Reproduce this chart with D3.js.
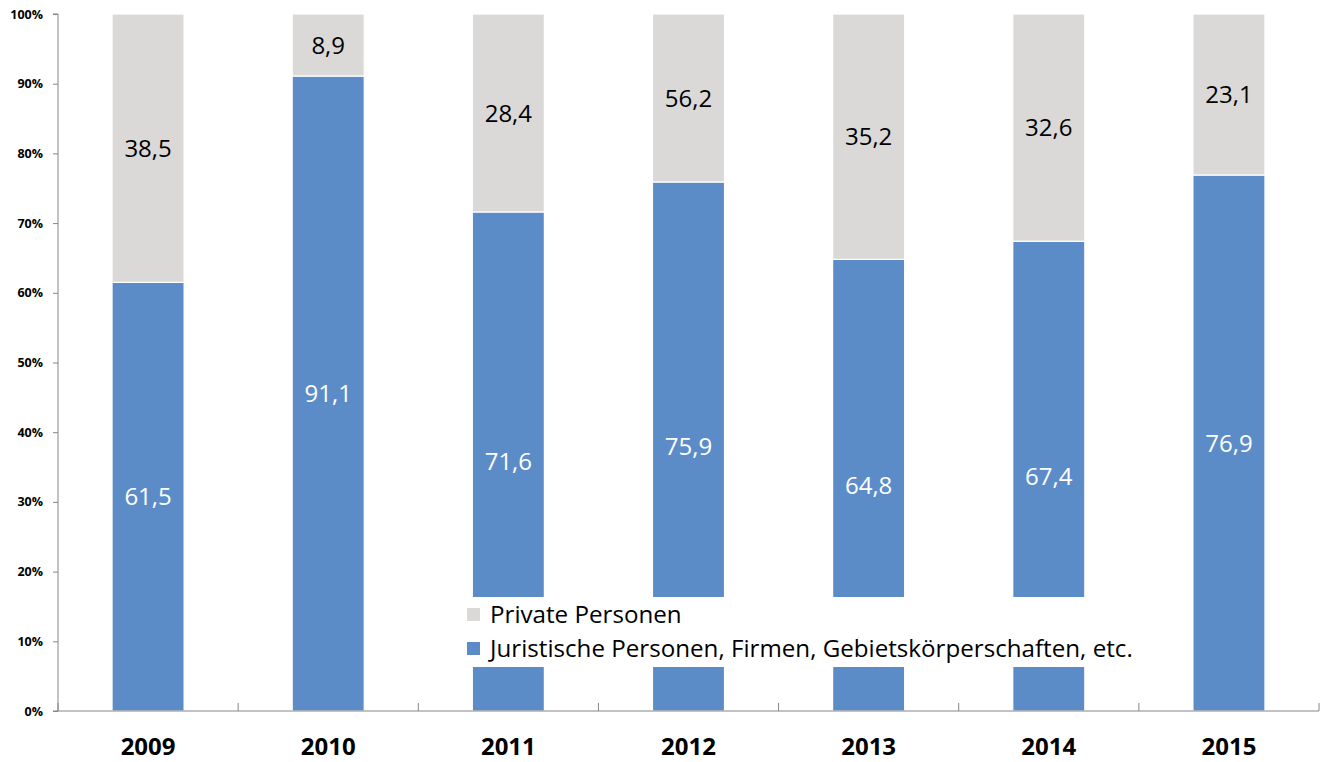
<!DOCTYPE html>
<html>
<head>
<meta charset="utf-8">
<script src="https://cdn.jsdelivr.net/npm/d3@7"></script>
<style>
  html, body { margin: 0; padding: 0; background: #fff; }
  svg { display: block; }
</style>
</head>
<body>
<svg id="chart" width="1322" height="762"></svg>
<script>
// ---- data ----
const years = ["2009", "2010", "2011", "2012", "2013", "2014", "2015"];
const juristValues = [61.5, 91.1, 71.6, 75.9, 64.8, 67.4, 76.9];
const privateValues = [38.5, 8.9, 28.4, 24.1, 35.2, 32.6, 23.1];
const juristLabels = ["61,5", "91,1", "71,6", "75,9", "64,8", "67,4", "76,9"];
const privateLabels = ["38,5", "8,9", "28,4", "56,2", "35,2", "32,6", "23,1"];
const yTicks = [0, 10, 20, 30, 40, 50, 60, 70, 80, 90, 100];
const seriesNames = ["Private Personen", "Juristische Personen, Firmen, Gebietskörperschaften, etc."];

(function () {
// ---- layout ----
const svg = d3.select("#chart");
const mLeft = 58, mRight = 1319, mTop = 14, mBottom = 711;
const blue = "#5B8CC8", gray = "#DAD9D7", axisColor = "#868686";

const x = d3.scaleBand().domain(years).range([mLeft, mRight]).paddingInner(0.6).paddingOuter(0.3);
const y = d3.scaleLinear().domain([0, 100]).range([mBottom, mTop]);

const rows = years.map((yr, i) => ({ year: yr, jur: juristValues[i], priv: privateValues[i] }));
const stack = d3.stack().keys(["jur", "priv"])(rows);
const colors = { jur: blue, priv: gray };

// bars
stack.forEach(layer => {
  svg.append("g").selectAll("rect").data(layer).join("rect")
    .attr("x", d => x(d.data.year))
    .attr("width", x.bandwidth())
    .attr("y", d => y(d[1]))
    .attr("height", d => y(d[0]) - y(d[1]))
    .attr("fill", colors[layer.key])
    .attr("stroke", "#fff")
    .attr("stroke-width", 1.2);
});

// value labels
const labelFont = "'Open Sans', sans-serif";
const juristLayer = stack[0], privLayer = stack[1];
svg.append("g").selectAll("text").data(juristLayer).join("text")
  .attr("x", d => x(d.data.year) + x.bandwidth() / 2)
  .attr("y", d => y((d[0] + d[1]) / 2))
  .attr("dy", "0.36em")
  .attr("text-anchor", "middle")
  .attr("font-family", labelFont).attr("font-size", 24)
  .attr("fill", "#fff")
  .text((d, i) => juristLabels[i]);
svg.append("g").selectAll("text").data(privLayer).join("text")
  .attr("x", d => x(d.data.year) + x.bandwidth() / 2)
  .attr("y", d => y((d[0] + d[1]) / 2))
  .attr("dy", "0.36em")
  .attr("text-anchor", "middle")
  .attr("font-family", labelFont).attr("font-size", 24)
  .attr("fill", "#000")
  .text((d, i) => privateLabels[i]);

// y axis
const yAxis = d3.axisLeft(y).tickValues(yTicks).tickFormat(d => d + "%").tickSize(5).tickPadding(10);
const gy = svg.append("g").attr("transform", `translate(${mLeft},0)`).call(yAxis);
gy.select(".domain").attr("stroke", axisColor).attr("d", `M-5,${mTop}H0V${mBottom}H-5`);
gy.selectAll(".tick line").attr("stroke", axisColor);
gy.selectAll(".tick text")
  .attr("font-family", "'Open Sans', sans-serif").attr("font-weight", "bold")
  .attr("font-size", 12.5).attr("fill", "#000");

// x axis
const gx = svg.append("g").attr("transform", `translate(0,${mBottom})`);
gx.append("line").attr("x1", mLeft).attr("x2", mRight).attr("y1", 0).attr("y2", 0).attr("stroke", axisColor);
const boundaries = years.map(yr => x(yr) - x.step() * x.paddingInner() / 2).concat([mRight]);
gx.selectAll("line.tk").data(boundaries).join("line").attr("class", "tk")
  .attr("x1", d => d).attr("x2", d => d).attr("y1", 0).attr("y2", -8).attr("stroke", axisColor);
gx.selectAll("text").data(years).join("text")
  .attr("x", d => x(d) + x.bandwidth() / 2)
  .attr("y", 44)
  .attr("text-anchor", "middle")
  .attr("font-family", "'Open Sans', sans-serif").attr("font-weight", "bold")
  .attr("font-size", 24).attr("fill", "#000")
  .text(d => d);

// legend
const lg = svg.append("g");
lg.append("rect").attr("x", 460).attr("y", 597).attr("width", 685).attr("height", 70).attr("fill", "#fff");
const legColors = [gray, blue];
const legY = [623, 657];
seriesNames.forEach((name, i) => {
  lg.append("rect").attr("x", 467).attr("y", legY[i] - 15).attr("width", 13).attr("height", 13).attr("fill", legColors[i]);
  lg.append("text").attr("class", "legtext").attr("x", 490).attr("y", legY[i])
    .attr("font-family", "'Open Sans', sans-serif").attr("font-size", 22).attr("fill", "#000")
    .text(name);
});
// fit legend font so the long entry spans the same width as the reference
const longText = lg.selectAll("text.legtext").filter((d, i) => i === 1).node();
const w = longText.getComputedTextLength();
const fs = 22 * 643 / w;
lg.selectAll("text.legtext").attr("font-size", fs);
})();
</script>
</body>
</html>
